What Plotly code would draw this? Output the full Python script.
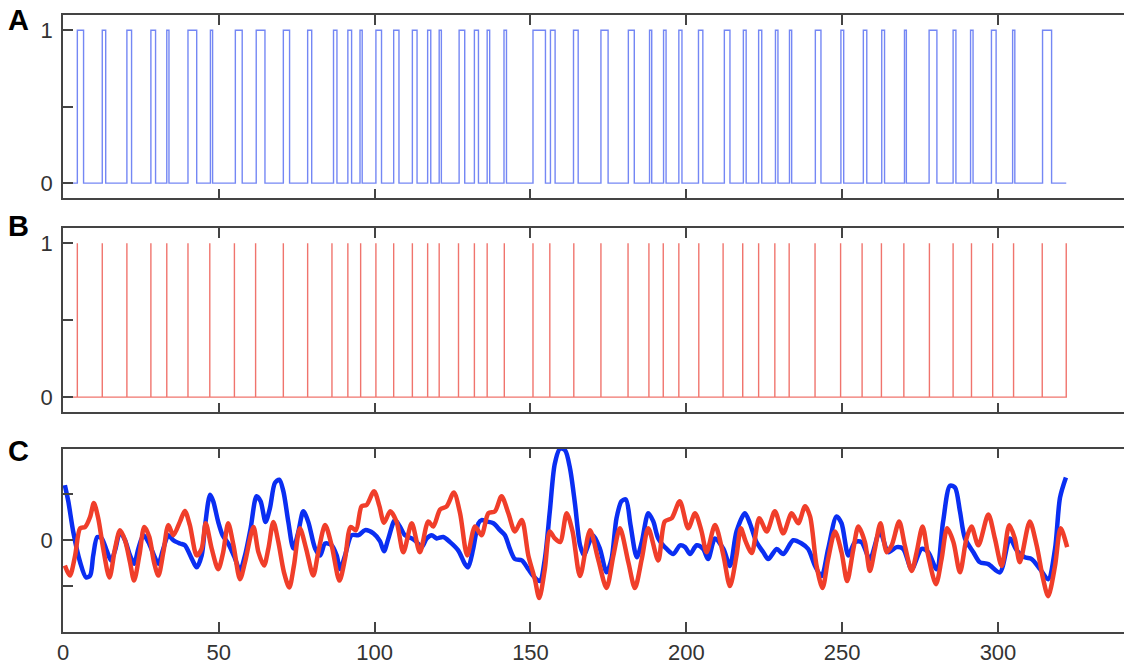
import plotly.graph_objs as go
from plotly.subplots import make_subplots

# Panel A: pulse onsets and offsets
a_rise = [4.6, 12.6, 20.5, 28.2, 33.3, 40.1, 47.3, 55.3, 62.0, 70.7, 78.5, 86.8, 91.4, 95.3,
          100.4, 106.1, 112.1, 117.0, 120.7, 127.1, 132.0, 136.1, 141.5, 150.8, 156.4, 163.8,
          172.6, 181.4, 188.2, 192.7, 197.6, 203.9, 212.2, 218.3, 223.2, 228.6, 233.1, 241.4,
          249.6, 256.8, 262.7, 270.0, 277.9, 285.6, 291.2, 297.9, 304.7, 314.3]
a_fall = [6.6, 13.7, 22.0, 29.7, 34.0, 42.9, 48.0, 57.5, 64.8, 72.7, 79.8, 87.9, 92.6, 96.0,
          102.2, 107.8, 113.6, 118.0, 121.4, 128.9, 133.3, 136.9, 142.3, 154.8, 157.9, 165.3,
          174.9, 183.3, 188.9, 193.5, 198.6, 205.3, 214.0, 219.2, 224.2, 229.4, 233.8, 243.2,
          250.5, 257.9, 263.6, 270.6, 280.4, 286.5, 292.0, 299.4, 305.4, 317.2]
t_end = 321.9

# Panel B: spike times
b_spikes = [4.6, 12.6, 20.5, 28.2, 33.3, 40.1, 47.1, 55.0, 61.8, 70.7, 78.5, 86.3, 91.4, 95.5,
            100.4, 106.1, 112.1, 117.0, 120.7, 126.9, 132.0, 136.1, 141.6, 150.8, 156.2, 163.9,
            172.6, 181.3, 188.0, 192.6, 197.6, 204.0, 211.8, 218.1, 223.2, 228.4, 233.0, 241.3,
            249.5, 256.4, 262.6, 269.8, 278.0, 285.6, 291.5, 298.3, 305.0, 314.2, 321.9]

# Panel C: blue and red traces
c_blue_x = [0.6, 1.7, 3.3, 5.5, 7.4, 8.7, 9.7, 11.0, 12.4, 14.0, 15.4, 16.7, 18.3, 19.9, 21.5,
            22.8, 24.2, 25.8, 27.4, 29.2, 30.6, 32.2, 33.8, 35.4, 37.5, 39.1, 41.3, 42.9, 44.5,
            45.6, 47.2, 48.2, 49.8, 51.2, 53.0, 55.2, 56.8, 58.4, 60.2, 62.1, 63.4, 65.0, 66.4,
            68.0, 69.4, 70.7, 72.3, 73.9, 75.5, 77.1, 78.7, 80.9, 82.5, 84.1, 86.2, 87.8, 88.9,
            90.5, 92.6, 94.8, 96.9, 99.6, 101.7, 103.0, 104.4, 106.5, 108.1, 109.7, 111.9, 113.5,
            115.1, 116.7, 118.3, 119.9, 122.0, 124.2, 126.8, 129.0, 130.0, 131.6, 133.3, 134.3,
            135.9, 138.1, 140.2, 141.8, 143.4, 145.0, 147.2, 149.3, 150.9, 153.0, 154.6, 156.2,
            157.8, 159.5, 161.1, 162.7, 164.3, 165.9, 167.2, 168.5, 170.1, 172.3, 174.4, 176.0,
            177.6, 179.2, 180.6, 182.1, 184.1, 185.7, 187.8, 189.4, 191.0, 193.7, 195.8, 198.0,
            199.6, 201.2, 203.3, 205.4, 207.0, 209.2, 211.9, 214.0, 216.1, 218.8, 220.4, 222.5,
            224.7, 226.3, 229.0, 231.1, 234.3, 237.0, 239.1, 241.3, 243.4, 245.5, 248.2, 249.8,
            252.0, 254.1, 256.2, 258.9, 262.1, 264.8, 267.5, 269.6, 272.3, 275.5, 277.6, 280.3,
            282.4, 284.6, 286.2, 287.8, 289.4, 292.1, 294.2, 296.9, 300.6, 303.8, 306.0, 308.6,
            310.8, 313.5, 316.1, 318.3, 319.9, 321.8]
c_blue_y = [1.2, 0.85, 0.18, -0.48, -0.81, -0.77, -0.33, 0.07, 0.04, -0.22, -0.44, -0.22, 0.18,
            0.0, -0.33, -0.51, -0.18, 0.11, -0.04, -0.33, -0.51, -0.18, 0.11, 0.0, -0.07, -0.11,
            -0.40, -0.59, -0.33, 0.33, 0.99, 0.85, 0.40, 0.11, -0.07, -0.40, -0.66, -0.33, 0.26,
            0.96, 0.85, 0.40, 0.70, 1.25, 1.32, 1.07, 0.40, -0.18, 0.18, 0.63, 0.40, -0.18, -0.33,
            -0.07, -0.11, -0.33, -0.63, -0.33, 0.11, 0.11, 0.22, 0.15, -0.02, -0.24, 0.04, 0.44,
            0.30, 0.11, 0.04, -0.04, -0.15, 0.04, 0.11, 0.04, 0.07, -0.04, -0.22, -0.52, -0.59,
            -0.19, 0.37, 0.44, 0.41, 0.37, 0.22, 0.11, -0.19, -0.41, -0.44, -0.63, -0.78, -0.89,
            -0.41, 0.63, 1.67, 2.0, 1.96, 1.56, 0.78, -0.11, -0.33, -0.11, 0.11, -0.19, -0.70,
            -0.41, 0.48, 0.85, 0.89, 0.33, -0.37, -0.04, 0.59, 0.41, 0.04, -0.19, -0.30, -0.11,
            -0.15, -0.30, -0.11, -0.19, -0.41, 0.04, -0.19, -0.56, 0.19, 0.59, 0.37, -0.04, -0.26,
            -0.41, -0.19, -0.30, 0.0, -0.07, -0.19, -0.56, -0.78, -0.19, 0.52, 0.37, -0.33, -0.04,
            -0.04, -0.41, 0.19, -0.26, -0.15, -0.19, -0.63, -0.19, -0.26, -0.63, 0.41, 1.19, 1.15,
            0.63, 0.04, -0.26, -0.48, -0.52, -0.70, 0.04, -0.22, -0.37, -0.41, -0.63, -0.85,
            -0.19, 0.93, 1.37]

c_red_x = [0.6, 2.2, 3.9, 5.5, 7.1, 8.7, 9.9, 11.3, 12.9, 14.9, 16.7, 18.3, 19.9, 21.5, 22.8,
           24.5, 26.1, 27.7, 29.2, 30.6, 32.2, 33.8, 35.4, 37.5, 39.1, 40.7, 42.9, 44.5, 45.8,
           47.7, 49.8, 51.4, 53.0, 54.7, 56.8, 58.4, 61.1, 62.7, 64.5, 65.9, 67.5, 69.1, 70.9,
           72.6, 74.1, 76.0, 78.0, 80.3, 81.9, 84.1, 86.2, 88.7, 90.5, 92.3, 94.0, 95.8, 97.4,
           99.8, 101.5, 103.0, 105.0, 107.0, 109.2, 111.9, 114.5, 117.2, 118.8, 121.0, 123.1,
           125.4, 127.4, 129.7, 132.2, 134.3, 136.5, 138.6, 140.7, 142.9, 145.0, 147.2, 149.3,
           151.4, 152.8, 154.6, 156.2, 157.8, 159.5, 161.6, 163.5, 165.9, 169.1, 171.7, 174.4,
           176.6, 178.7, 181.4, 183.5, 185.7, 187.8, 191.0, 193.1, 195.3, 197.9, 200.6, 202.8,
           204.9, 206.5, 209.2, 211.9, 214.0, 216.1, 217.5, 219.0, 221.0, 223.4, 225.8, 228.4,
           231.1, 233.8, 235.9, 238.1, 239.7, 241.8, 243.7, 245.5, 247.7, 249.8, 251.6, 253.6,
           255.2, 257.3, 258.9, 260.5, 262.3, 264.3, 265.9, 268.3, 270.1, 272.3, 273.9, 275.8,
           277.6, 280.1, 281.9, 283.7, 285.7, 287.8, 289.9, 291.5, 293.7, 296.9, 299.0, 301.2,
           303.6, 305.4, 307.0, 310.2, 312.4, 314.5, 316.1, 318.3, 320.1, 322.2]
c_red_y = [-0.55, -0.77, -0.33, 0.26, 0.29, 0.51, 0.81, 0.48, -0.18, -0.81, -0.18, 0.22, 0.0,
           -0.48, -0.88, -0.33, 0.29, 0.07, -0.48, -0.77, -0.26, 0.33, 0.11, 0.40, 0.64, 0.33,
           -0.33, -0.18, 0.37, -0.18, -0.63, -0.26, 0.37, -0.11, -0.85, -0.48, 0.29, -0.26, -0.55,
           -0.18, 0.40, -0.04, -0.70, -1.03, -0.55, 0.26, -0.18, -0.77, -0.26, 0.33, -0.11, -0.88,
           -0.40, 0.29, 0.22, 0.74, 0.77, 1.07, 0.75, 0.38, 0.63, 0.41, -0.26, 0.37, -0.26, 0.41,
           0.30, 0.67, 0.74, 1.04, 0.59, -0.33, 0.30, 0.11, 0.59, 0.63, 0.96, 0.59, 0.19, 0.44,
           -0.33, -0.85, -1.26, -0.63, 0.19, 0.04, -0.04, 0.59, 0.19, -0.78, 0.22, -0.41, -1.04,
           -0.33, 0.26, -0.48, -1.04, -0.41, 0.26, -0.44, 0.41, 0.48, 0.85, 0.26, 0.59, 0.19,
           -0.26, 0.33, -0.33, -1.0, -0.33, 0.26, -0.02, -0.28, 0.48, 0.19, 0.63, 0.15, 0.59,
           0.37, 0.74, 0.52, -0.56, -1.04, -0.41, 0.19, -0.26, -0.89, -0.19, 0.30, -0.04, -0.67,
           -0.19, 0.37, -0.26, -0.11, 0.41, -0.11, -0.67, -0.26, 0.30, -0.33, -0.96, -0.41, 0.26,
           -0.04, -0.70, 0.04, 0.30, -0.11, 0.56, 0.04, -0.56, 0.33, 0.04, -0.48, 0.41, -0.11,
           -0.85, -1.22, -0.56, 0.26, -0.15]

x_ticks = [0, 50, 100, 150, 200, 250, 300]

# build the step signal for A from rise/fall times
a_x, a_y = [0], [0]
for r, f in zip(a_rise, a_fall):
    a_x += [r, f]
    a_y += [1, 0]
a_x.append(t_end)
a_y.append(0)

# build the spike train for B
b_x, b_y = [0], [0]
for s in b_spikes:
    b_x += [s, s, s]
    b_y += [0, 1, 0]

fig = make_subplots(rows=3, cols=1, shared_xaxes=False, vertical_spacing=0.05)

fig.add_trace(go.Scatter(x=a_x, y=a_y, mode='lines', line_shape='hv',
                         line=dict(color='rgba(70,95,240,0.75)', width=1.4)), row=1, col=1)
fig.add_trace(go.Scatter(x=b_x, y=b_y, mode='lines',
                         line=dict(color='rgba(235,70,60,0.75)', width=1.4)), row=2, col=1)
fig.add_trace(go.Scatter(x=c_blue_x, y=c_blue_y, mode='lines', line_shape='spline',
                         line=dict(color='#0a2ef2', width=4.5, smoothing=0.8)), row=3, col=1)
fig.add_trace(go.Scatter(x=c_red_x, y=c_red_y, mode='lines', line_shape='spline',
                         line=dict(color='#f03e2a', width=4.5, smoothing=0.8)), row=3, col=1)

axis_font = dict(family='Liberation Sans, Arial, sans-serif', size=22, color='#333333')
common_x = dict(range=[0, 343], showline=True, linecolor='#444444', linewidth=1.5, mirror='allticks',
                ticks='inside', ticklen=10, tickcolor='#444444', tickwidth=1.5,
                tickvals=x_ticks, showgrid=False, zeroline=False, tickfont=axis_font)
common_y = dict(showline=True, linecolor='#444444', linewidth=1.5, mirror=False,
                ticks='inside', ticklen=10, tickcolor='#444444', tickwidth=1.5,
                showgrid=False, zeroline=False, tickfont=axis_font, ticklabelstandoff=4)

# page body has an 8px margin, so the figure is 8px smaller than the window
fig.update_layout(
    width=1124, height=657,
    margin=dict(l=55, r=0, t=7, b=33),
    paper_bgcolor='white', plot_bgcolor='white',
    showlegend=False,
    xaxis=dict(common_x, domain=[0, 1], showticklabels=False),
    xaxis2=dict(common_x, domain=[0, 1], showticklabels=False),
    xaxis3=dict(common_x, domain=[0, 1], showticklabels=True),
    yaxis=dict(common_y, domain=[0.7028, 1.0], range=[-0.1, 1.1],
               tickvals=[0, 0.5, 1], ticktext=['0', '', '1']),
    yaxis2=dict(common_y, domain=[0.3558, 0.6551], range=[-0.1, 1.1],
                tickvals=[0, 0.5, 1], ticktext=['0', '', '1']),
    yaxis3=dict(common_y, domain=[0, 0.2974], range=[-2, 2],
                tickvals=[-1, 0, 1], ticktext=['', '0', '']),
)

# panel letters
for letter, ypix in [('A', 20), ('B', 226), ('C', 451)]:
    fig.add_annotation(text=letter, xref='paper', yref='paper',
                       x=(18 - 63) / 1069, y=(631.7 - ypix) / 616.7,
                       xanchor='center', yanchor='middle', showarrow=False,
                       font=dict(family='Liberation Sans, Arial, sans-serif', size=29,
                                 color='black', weight='bold'))

fig.write_html("out.html")
